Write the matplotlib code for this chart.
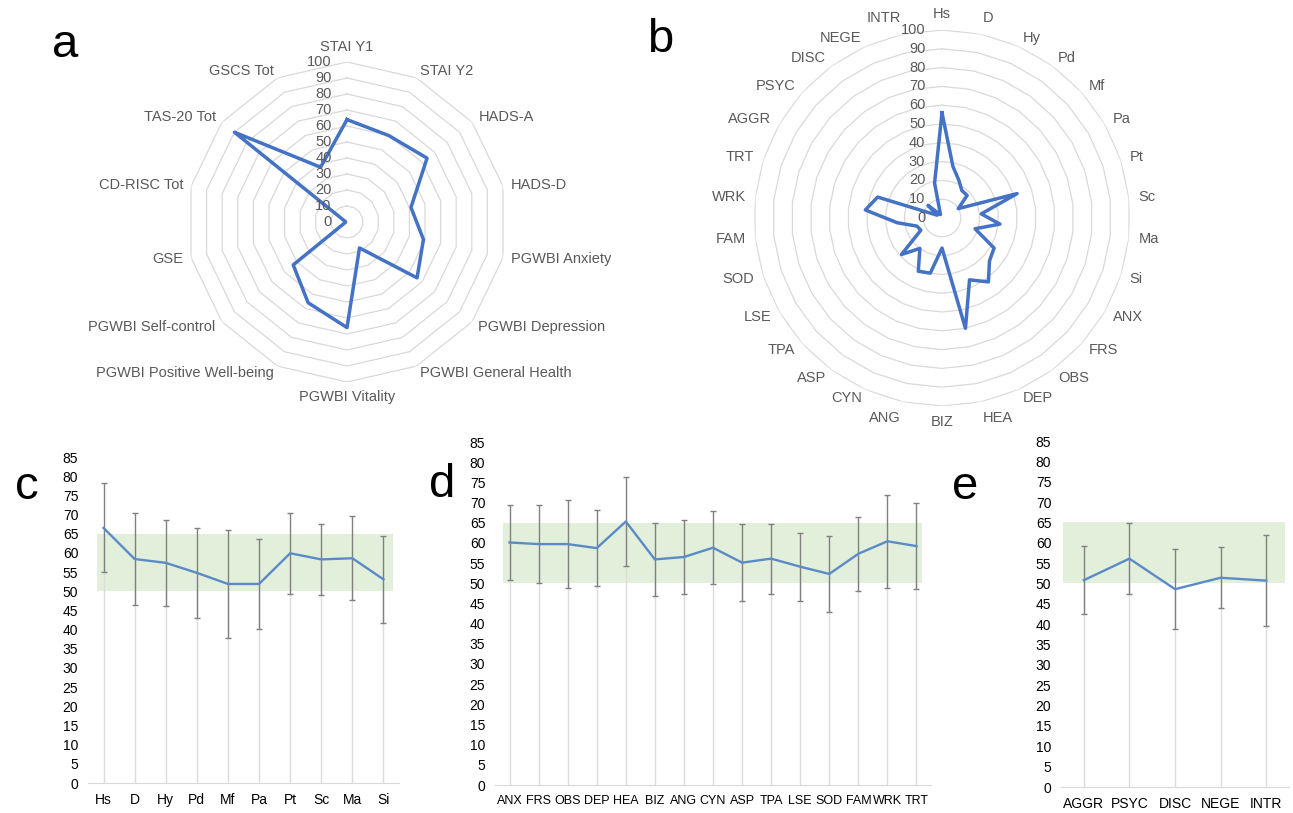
import numpy as np
import matplotlib
matplotlib.use('Agg')
import matplotlib.pyplot as plt

plt.rcParams['font.family'] = ['Liberation Sans', 'DejaVu Sans']

# ---- data ----
radar_a_labels = ['STAI Y1', 'STAI Y2', 'HADS-A', 'HADS-D', 'PGWBI Anxiety', 'PGWBI Depression',
                  'PGWBI General Health', 'PGWBI Vitality', 'PGWBI Positive Well-being',
                  'PGWBI Self-control', 'GSE', 'CD-RISC Tot', 'TAS-20 Tot', 'GSCS Tot']
radar_a_values = [64, 60, 64, 41, 49, 56, 18, 66, 56, 43, 1, 1, 90, 38]

radar_b_labels = ['Hs', 'D', 'Hy', 'Pd', 'Mf', 'Pa', 'Pt', 'Sc', 'Ma', 'Si',
                  'ANX', 'FRS', 'OBS', 'DEP', 'HEA', 'BIZ', 'ANG', 'CYN', 'ASP', 'TPA',
                  'LSE', 'SOD', 'FAM', 'WRK', 'TRT', 'AGGR', 'PSYC', 'DISC', 'NEGE', 'INTR']
radar_b_values = [56, 28, 22, 18, 18, 10, 42, 21, 31, 18.5,
                  32, 34, 42, 36, 60, 16, 30, 31, 20, 29,
                  13, 14, 24, 41, 36, 3, 10, 3, 2, 19]

c_labels = ['Hs', 'D', 'Hy', 'Pd', 'Mf', 'Pa', 'Pt', 'Sc', 'Ma', 'Si']
c_means = [66.5, 58.4, 57.4, 54.8, 51.9, 51.9, 59.9, 58.3, 58.6, 53.1]
c_sd = [11.6, 12.1, 11.3, 11.7, 14.0, 11.7, 10.6, 9.2, 10.9, 11.3]

d_labels = ['ANX', 'FRS', 'OBS', 'DEP', 'HEA', 'BIZ', 'ANG', 'CYN', 'ASP', 'TPA',
            'LSE', 'SOD', 'FAM', 'WRK', 'TRT']
d_means = [60.1, 59.7, 59.7, 58.7, 65.3, 55.9, 56.5, 58.8, 55.1, 56.1, 54.1, 52.3, 57.3, 60.4, 59.2]
d_sd = [9.3, 9.7, 11.0, 9.5, 11.0, 9.1, 9.2, 9.0, 9.5, 8.7, 8.4, 9.4, 9.2, 11.5, 10.7]

e_labels = ['AGGR', 'PSYC', 'DISC', 'NEGE', 'INTR']
e_means = [50.8, 56.1, 48.6, 51.4, 50.7]
e_sd = [8.4, 8.8, 9.8, 7.5, 11.1]

norm_low, norm_high = 50, 65

fig = plt.figure(figsize=(12.93, 8.13), dpi=100)

grey_txt = '#595959'


def radar(rect, labels, values, lab_r, fs, tick_off):
    ax = fig.add_axes(rect, projection='polar')
    n = len(labels)
    theta = np.arange(n) * 2 * np.pi / n
    ax.set_theta_zero_location('N')
    ax.set_theta_direction(-1)
    ax.set_ylim(0, 100)
    ax.grid(False)
    ax.spines['polar'].set_visible(False)
    ax.set_xticks([])
    ax.set_yticks([])
    ax.set_facecolor('none')
    ring_t = np.append(theta, theta[0])
    for r in range(10, 101, 10):
        ax.plot(ring_t, [r] * (n + 1), color='#d9d9d9', lw=0.9, zorder=1)
    ax.plot(ring_t, np.append(values, values[0]), color='#4472c4', lw=2.5, zorder=3)
    for r in range(0, 101, 10):
        ax.annotate(str(r), (0, r), xytext=(tick_off, 0), textcoords='offset points',
                    ha='right', va='center', fontsize=fs, color=grey_txt, zorder=4)
    for t, lab in zip(theta, labels):
        s, c = np.sin(t), np.cos(t)
        ha = 'center' if abs(s) < 0.05 else ('left' if s > 0 else 'right')
        va = 'bottom' if c > 0.97 else ('top' if c < -0.97 else 'center')
        ax.text(t, lab_r, lab, ha=ha, va=va, fontsize=fs, color=grey_txt)
    return ax


radar([187 / 1293, 1 - 382 / 813, 320 / 1293, 320 / 813], radar_a_labels, radar_a_values, 105, 10.5, -11)
radar([754 / 1293, 1 - 406 / 813, 376 / 1293, 376 / 813], radar_b_labels, radar_b_values, 105, 10.5, -12)


def profile(rect, labels, means, sds, band, xfs):
    ax = fig.add_axes(rect)
    x = np.arange(len(labels))
    ax.fill_between(band, norm_low, norm_high, color='#e2efda', lw=0, zorder=0)
    ax.vlines(x, 0, means, color='#dcdcdc', lw=1.0, zorder=1)
    ax.errorbar(x, means, yerr=sds, fmt='none', ecolor='#808080', elinewidth=1.0,
                capsize=2.5, capthick=1.0, zorder=2)
    ax.plot(x, means, color='#5b8bc6', lw=1.7, zorder=3)
    ax.set_xlim(-0.5, len(labels) - 0.5)
    ax.set_ylim(0, 85)
    ax.set_yticks(range(0, 86, 5))
    ax.set_xticks(x, labels)
    for s in ['top', 'right', 'left']:
        ax.spines[s].set_visible(False)
    ax.spines['bottom'].set_color('#d9d9d9')
    ax.tick_params(length=0, labelsize=10, pad=7)
    ax.tick_params(axis='x', labelsize=xfs)
    ax.set_facecolor('none')
    return ax


profile([88 / 1293, 30 / 813, 311 / 1293, 326 / 813], c_labels, c_means, c_sd, [-0.2, 9.3], 10)
profile([495 / 1293, 28 / 813, 436 / 1293, 343 / 813], d_labels, d_means, d_sd, [-0.22, 14.2], 9)
profile([1061 / 1293, 26 / 813, 228 / 1293, 346 / 813], e_labels, e_means, e_sd, [-0.46, 4.42], 10)

for letter, xp, yp in [('a', 65, 45), ('b', 660, 40), ('c', 27, 487), ('d', 442, 485), ('e', 965, 487)]:
    fig.text(xp / 1293, 1 - yp / 813, letter, fontsize=34, ha='center', va='center')

plt.savefig('out.png', dpi=100)
